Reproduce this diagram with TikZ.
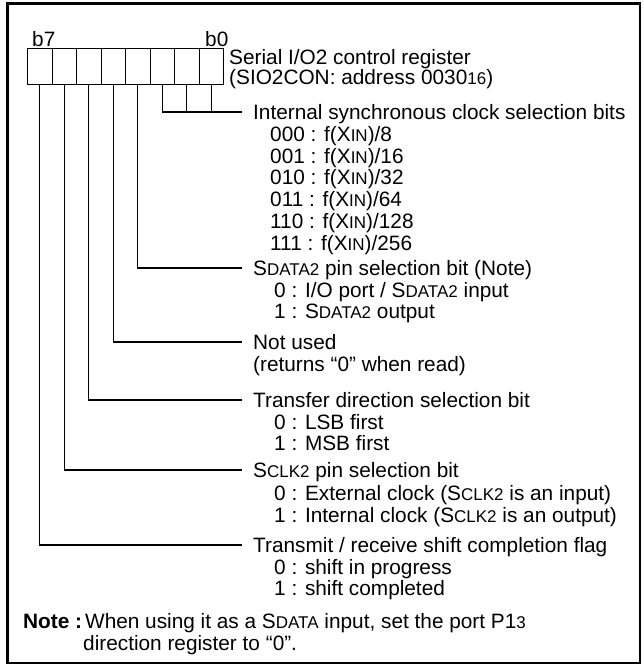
\documentclass[tikz,border=0pt]{standalone}
\usepackage{fontspec}
\setmainfont{Liberation Sans}
\newcommand{\sm}[1]{{\fontsize{17}{17}\selectfont #1}}
\begin{document}
\begin{tikzpicture}[x=1pt,y=-1pt,
  txt/.style={anchor=base west,inner sep=0pt,font=\fontsize{20.8}{21.7}\selectfont},
  cell/.style={draw,line width=0.9pt,minimum width=24.5pt,minimum height=36pt,inner sep=0pt,anchor=north west},
  conn/.style={line width=1.1pt}]
\useasboundingbox (0,0) rectangle (643,668);
\draw[line width=2.6pt] (7.5,3.5) rectangle (640,663);
% register cells
\foreach \i in {0,...,7}{
  \node[cell] (c\i) at ({27+24.5*\i},48) {};
}
\node[txt] (b7) at (32,46.5) {b7};
\node[txt] (b0) at (205,46.5) {b0};
\node[txt,align=left,font=\fontsize{20.8}{19}\selectfont] (title) at (229,84.5)
  {Serial I/O2 control register\\(SIO2CON: address 0030\sm{16})};
% connector end points
\coordinate (e57) at (242,112);
\coordinate (e4) at (242,268);
\coordinate (e3) at (242,342);
\coordinate (e2) at (242,400);
\coordinate (e1) at (242,470);
\coordinate (e0) at (242,545);
\coordinate (j5) at (c5.south |- e57);
\draw[conn] (c5.south) -- (j5) -- (e57);
\draw[conn] (c6.south) -- (c6.south |- e57);
\draw[conn] (c7.south) -- (c7.south |- e57);
\draw[conn] (c4.south) |- (e4);
\draw[conn] (c3.south) |- (e3);
\draw[conn] (c2.south) |- (e2);
\draw[conn] (c1.south) |- (e1);
\draw[conn] (c0.south) |- (e0);
% texts
\node[txt] (t0) at (253,119.5) {Internal synchronous clock selection bits};
\node[txt] (t0a) at (270,141.5) {000 : f(X\sm{IN})/8};
\node[txt] (t0b) at (270,163.2) {001 : f(X\sm{IN})/16};
\node[txt] (t0c) at (270,184.9) {010 : f(X\sm{IN})/32};
\node[txt] (t0d) at (270,206.6) {011 : f(X\sm{IN})/64};
\node[txt] (t0e) at (270,228.3) {110 : f(X\sm{IN})/128};
\node[txt] (t0f) at (270,250) {111 : f(X\sm{IN})/256};
\node[txt] (t4) at (253,275.5) {S\sm{DATA2} pin selection bit (Note)};
\node[txt] (t4a) at (274,297.2) {0 : I/O port / S\sm{DATA2} input};
\node[txt] (t4b) at (274,318.9) {1 : S\sm{DATA2} output};
\node[txt] (t3) at (253,349.5) {Not used};
\node[txt] (t3a) at (253,371.2) {(returns “0” when read)};
\node[txt] (t2) at (253,407.5) {Transfer direction selection bit};
\node[txt] (t2a) at (274,429.2) {0 : LSB first};
\node[txt] (t2b) at (274,450.9) {1 : MSB first};
\node[txt] (t1) at (253,477.5) {S\sm{CLK2} pin selection bit};
\node[txt] (t1a) at (274,500.5) {0 : External clock (S\sm{CLK2} is an input)};
\node[txt] (t1b) at (274,522.5) {1 : Internal clock (S\sm{CLK2} is an output)};
\node[txt] (tt) at (253,552.5) {Transmit / receive shift completion flag};
\node[txt] (tta) at (274,574.2) {0 : shift in progress};
\node[txt] (ttb) at (274,595.9) {1 : shift completed};
\node[txt] (n1) at (23,628.5) {\textbf{Note :}\hspace{3pt}When using it as a S\sm{DATA} input, set the port P1\sm{3}};
\node[txt] (n2) at (83,650) {direction register to “0”.};
\end{tikzpicture}
\end{document}
